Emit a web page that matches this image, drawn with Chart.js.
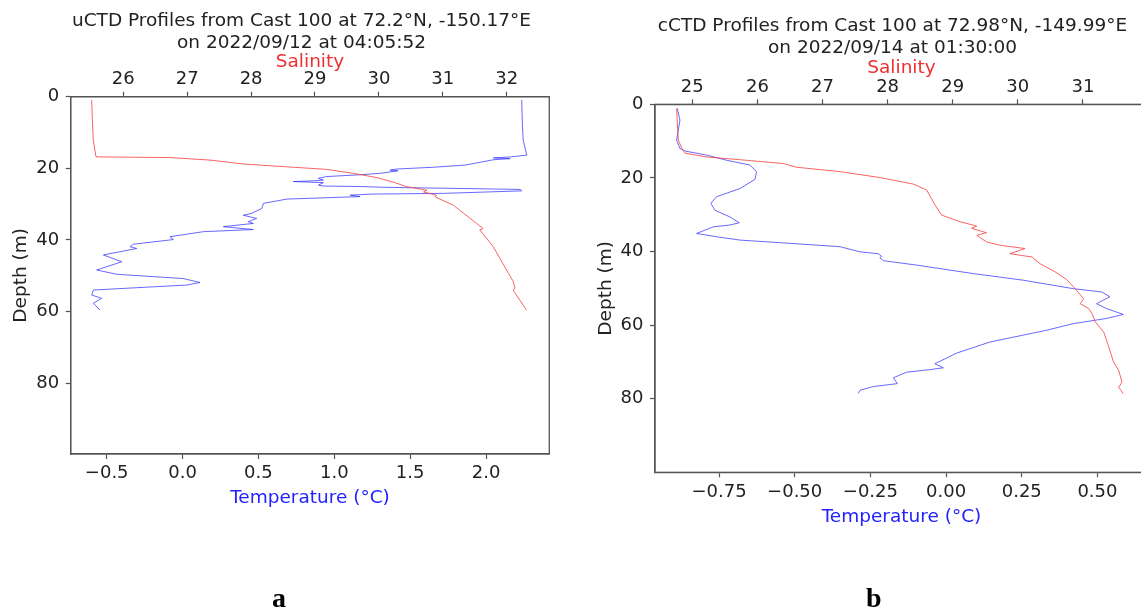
<!DOCTYPE html>
<html>
<head>
<meta charset="utf-8">
<script src="https://cdn.jsdelivr.net/npm/chart.js"></script>
<style>
  html, body { margin: 0; padding: 0; background: #fff; width: 1141px; height: 613px; overflow: hidden; position: relative; }
  canvas { position: absolute; top: 0; }
  #ca { left: 0px; }
  #cb { left: 580px; }
  .lbl { position: absolute; font-family: "Liberation Serif", serif; font-weight: bold; font-size: 28px; color: #000; line-height: 1; }
</style>
</head>
<body>
<canvas id="ca" width="603" height="613"></canvas>
<canvas id="cb" width="625" height="613"></canvas>
<div class="lbl" id="la" style="left:272px; top:584px;">a</div>
<div class="lbl" id="lb" style="left:866px; top:584px;">b</div>
<script>
// ---------- Data ----------
// Panel a: uCTD
const aTitle = ["uCTD Profiles from Cast 100 at 72.2°N, -150.17°E", "on 2022/09/12 at 04:05:52"];
const aTempDepth = [0.9, 8, 12.1, 16.3, 16.8, 17.1, 17.3, 17.6, 19.1, 19.7, 20.2, 20.5, 20.7, 21.4, 21.8, 22.3, 22.8, 23.3, 23.5, 23.7, 24.0, 24.7, 24.95, 25.1, 25.3, 25.9, 26.3, 27.0, 27.2, 27.5, 27.9, 28.6, 29.8, 31.2, 32.6, 33.1, 34.0, 34.9, 35.4, 36.3, 37.1, 37.7, 39.1, 39.9, 41.2, 41.9, 42.4, 44.2, 46.1, 48.4, 49.6, 50.8, 51.9, 52.6, 54.0, 55.4, 56.3, 57.7, 59.6];
const aTemp = [2.235, 2.24, 2.245, 2.268, 2.17, 2.049, 2.158, 2.05, 1.862, 1.654, 1.412, 1.367, 1.42, 1.302, 1.17, 0.95, 0.895, 0.928, 0.862, 0.73, 0.928, 0.895, 0.928, 1.19, 1.323, 2.224, 2.235, 1.719, 1.247, 1.104, 1.17, 0.686, 0.533, 0.522, 0.455, 0.40, 0.488, 0.433, 0.466, 0.269, 0.466, 0.137, -0.083, -0.061, -0.324, -0.346, -0.302, -0.522, -0.401, -0.566, -0.434, 0.005, 0.115, 0.027, -0.588, -0.599, -0.533, -0.588, -0.544];
const aSalDepth = [0.9, 6, 12.1, 16.8, 17.0, 17.7, 18.8, 19.7, 20.3, 21.4, 22.6, 24.0, 25.1, 26.1, 26.6, 27.5, 28.0, 30.3, 35.4, 36.8, 37.2, 41.9, 49.4, 51.5, 53.5, 54.0, 59.6];
const aSal = [25.505, 25.515, 25.53, 25.573, 26.731, 27.357, 27.88, 28.66, 29.18, 29.6, 29.97, 30.25, 30.43, 30.75, 30.70, 30.9, 30.88, 31.165, 31.53, 31.63, 31.58, 31.79, 32.03, 32.10, 32.13, 32.10, 32.31];
const aTempTicks = [-0.5, 0.0, 0.5, 1.0, 1.5, 2.0];
const aSalTicks = [26, 27, 28, 29, 30, 31, 32];

// Panel b: cCTD
const bTitle = ["cCTD Profiles from Cast 100 at 72.98°N, -149.99°E", "on 2022/09/14 at 01:30:00"];
const bTempDepth = [1.1, 4.3, 9.7, 12.0, 12.7, 13.8, 15.2, 16.5, 18.3, 20.4, 22.9, 25.1, 26.9, 28.8, 30.6, 32.2, 32.8, 33.3, 35.1, 36.0, 36.9, 37.6, 38.7, 40.1, 40.6, 41.3, 41.7, 42.5, 43.7, 46.0, 47.8, 50.1, 51.0, 52.3, 54.2, 55.5, 57.1, 58.2, 59.6, 61.4, 64.6, 67.6, 70.5, 71.6, 72.1, 72.8, 74.3, 75.9, 76.7, 77.7, 78.6];
const bTemp = [-0.888, -0.879, -0.89, -0.879, -0.862, -0.791, -0.725, -0.648, -0.626, -0.631, -0.681, -0.758, -0.777, -0.763, -0.714, -0.683, -0.714, -0.769, -0.824, -0.758, -0.681, -0.549, -0.35, -0.284, -0.224, -0.213, -0.219, -0.207, -0.097, 0.09, 0.255, 0.42, 0.514, 0.541, 0.497, 0.53, 0.585, 0.53, 0.42, 0.332, 0.145, 0.035, -0.037, -0.009, -0.054, -0.13, -0.174, -0.161, -0.24, -0.284, -0.29];
const bSalDepth = [1.1, 5.2, 9.7, 12.0, 13.3, 14.3, 15.3, 16.1, 17.1, 18.3, 19.9, 21.7, 23.3, 27.4, 30.1, 31.9, 33.1, 33.7, 34.9, 35.6, 37.4, 38.3, 39.2, 40.6, 41.5, 43.3, 45.5, 47.6, 50.1, 52.8, 54.2, 55.5, 56.9, 59.1, 61.9, 65.5, 70.0, 72.3, 75.5, 76.9, 78.6];
const bSal = [24.76, 24.77, 24.785, 24.84, 24.89, 25.22, 25.89, 26.40, 26.60, 27.27, 27.88, 28.40, 28.60, 28.73, 28.83, 29.11, 29.37, 29.29, 29.52, 29.37, 29.52, 29.73, 30.11, 29.88, 30.22, 30.34, 30.57, 30.75, 30.88, 31.01, 30.96, 31.09, 31.14, 31.19, 31.32, 31.39, 31.47, 31.55, 31.60, 31.55, 31.62];
const bTempTicks = [-0.75, -0.50, -0.25, 0.00, 0.25, 0.50];
const bSalTicks = [25, 26, 27, 28, 29, 30, 31];

const depthTicks = [0, 20, 40, 60, 80];

// ---------- Helpers ----------
const FONT = "'DejaVu Sans', sans-serif";
const TXT = '#222';
const SPINE = '#555';
Chart.defaults.font.family = FONT;
Chart.defaults.color = TXT;

function pts(xs, ys) { return xs.map((x, i) => ({ x: x, y: ys[i] })); }
function fixTicks(list) { return (scale) => { scale.ticks = list.map(v => ({ value: v })); }; }
function fmt(dec) { return (v) => Number(v).toFixed(dec).replace('-', '\u2212'); }

const framePlugin = {
  id: 'frame',
  afterDraw(chart) {
    const a = chart.chartArea, c = chart.ctx;
    c.save();
    c.strokeStyle = SPINE;
    c.lineWidth = 1.3;
    c.strokeRect(a.left, a.top, a.right - a.left, a.bottom - a.top);
    c.restore();
  }
};

function makeChart(id, cfg) {
  const tickCommon = { color: TXT, font: { size: 18, family: FONT } };
  const gridCommon = { drawOnChartArea: false, drawTicks: true, tickLength: 5, tickColor: SPINE, tickWidth: 1.2 };
  return new Chart(document.getElementById(id), {
    type: 'scatter',
    data: {
      datasets: [
        { label: 'Salinity', data: pts(cfg.sal, cfg.salDepth), xAxisID: 'xs', yAxisID: 'y',
          showLine: true, borderColor: 'rgba(250,60,60,0.8)', borderWidth: 1, pointRadius: 0, tension: 0 },
        { label: 'Temperature', data: pts(cfg.temp, cfg.tempDepth), xAxisID: 'x', yAxisID: 'y',
          showLine: true, borderColor: 'rgba(40,40,255,0.7)', borderWidth: 1, pointRadius: 0, tension: 0 }
      ]
    },
    options: {
      responsive: false,
      animation: false,
      devicePixelRatio: 1,
      layout: { padding: cfg.pad },
      plugins: {
        legend: { display: false },
        tooltip: { enabled: false },
        title: { display: true, text: cfg.title, color: TXT,
          font: { size: 18.5, family: FONT, weight: 'normal', lineHeight: cfg.titleLH },
          padding: { top: cfg.titlePadTop, bottom: 0 } }
      },
      scales: {
        x: {
          type: 'linear', position: 'bottom', min: cfg.tMin, max: cfg.tMax,
          afterBuildTicks: fixTicks(cfg.tTicks),
          afterFit: (s) => { s.height = 60; },
          ticks: Object.assign({}, tickCommon, { padding: cfg.botPad, callback: fmt(cfg.tDec), autoSkip: false, maxRotation: 0 }),
          grid: gridCommon,
          border: { display: true, color: SPINE, width: 1.3 },
          title: { display: true, text: 'Temperature (°C)', color: '#2222ff',
            font: { size: 18.5, family: FONT }, padding: { top: 0, bottom: cfg.xTitlePad } }
        },
        xs: {
          type: 'linear', position: 'top', min: cfg.sMin, max: cfg.sMax,
          afterBuildTicks: fixTicks(cfg.sTicks),
          afterFit: (s) => { s.height = cfg.topH; },
          ticks: Object.assign({}, tickCommon, { padding: cfg.topPad, callback: fmt(0), autoSkip: false, maxRotation: 0 }),
          grid: gridCommon,
          border: { display: true, color: SPINE, width: 1.3 },
          title: { display: true, text: 'Salinity', color: '#ee3030',
            font: { size: 18.5, family: FONT, lineHeight: 1.0 }, padding: { top: cfg.salPad, bottom: 0 } }
        },
        y: {
          type: 'linear', position: 'left', reverse: true, min: 0, max: cfg.dMax,
          afterBuildTicks: fixTicks(depthTicks),
          afterFit: (s) => { s.width = cfg.yW; },
          ticks: Object.assign({}, tickCommon, { padding: 6.5, callback: fmt(0), autoSkip: false }),
          grid: gridCommon,
          border: { display: true, color: SPINE, width: 1.3 },
          title: { display: true, text: 'Depth (m)', color: TXT,
            font: { size: 18.5, family: FONT }, padding: { top: cfg.yTitlePad, bottom: 0 } }
        },
        yr: {
          type: 'linear', position: 'right', display: true,
          afterFit: (s) => { s.width = cfg.rightW; },
          ticks: { display: false },
          grid: { display: false, drawTicks: false },
          border: { display: false },
          title: { display: false }
        }
      }
    },
    plugins: [framePlugin]
  });
}

makeChart('ca', {
  title: aTitle, titleLH: 1.157, titlePadTop: 10.6,
  pad: { left: 0, right: 0, top: 0, bottom: 99 }, rightW: 53.7,
  temp: aTemp, tempDepth: aTempDepth, sal: aSal, salDepth: aSalDepth,
  tMin: -0.7373, tMax: 2.417, tTicks: aTempTicks, tDec: 1,
  sMin: 25.177, sMax: 32.667, sTicks: aSalTicks,
  dMax: 99.8, yW: 70.7, yTitlePad: 10.4,
  topH: 43.3, topPad: 1.25, salPad: 0, botPad: 3.7, xTitlePad: 4.9
});

makeChart('cb', {
  title: bTitle, titleLH: 1.2, titlePadTop: 14.9,
  pad: { left: 0, right: 0, top: 0, bottom: 80.7 }, rightW: 57,
  temp: bTemp, tempDepth: bTempDepth, sal: bSal, salDepth: bSalDepth,
  tMin: -0.9614, tMax: 0.667, tTicks: bTempTicks, tDec: 2,
  sMin: 24.427, sMax: 32.0, sTicks: bSalTicks,
  dMax: 100, yW: 75, yTitlePad: 14.9,
  topH: 45, topPad: 1.5, salPad: 0, botPad: 4, xTitlePad: 4.4
});
</script>
</body>
</html>
